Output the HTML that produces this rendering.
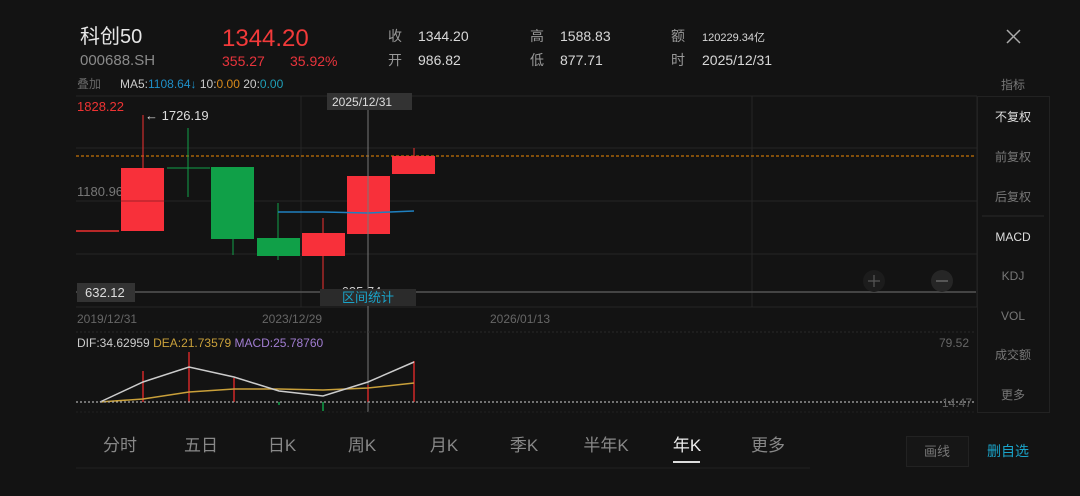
<!DOCTYPE html>
<html><head><meta charset="utf-8"><style>
body{margin:0;width:1080px;height:496px;background:#131313;overflow:hidden;font-family:"Liberation Sans","Noto Sans CJK SC",sans-serif}
</style></head><body>
<svg width="1080" height="496" xmlns="http://www.w3.org/2000/svg" style="position:absolute;left:0;top:0;font-family:'Liberation Sans','Noto Sans CJK SC',sans-serif">
<rect width="1080" height="496" fill="#131313"/>
<!-- header -->
<text x="80" y="43" fill="#e6e6e6" font-size="20">科创50</text>
<text x="80" y="65" fill="#8a8a8a" font-size="15">000688.SH</text>
<text x="222" y="46" fill="#f23a3a" font-size="24">1344.20</text>
<text x="222" y="66" fill="#e8343c" font-size="14">355.27</text>
<text x="290" y="66" fill="#e8343c" font-size="14">35.92%</text>
<g font-size="14" fill="#999"><text x="388" y="41">收</text><text x="388" y="65">开</text><text x="530" y="41">高</text><text x="530" y="65">低</text><text x="671" y="41">额</text><text x="671" y="65">时</text></g>
<g font-size="14" fill="#d8d8d8"><text x="418" y="41">1344.20</text><text x="418" y="65">986.82</text><text x="560" y="41">1588.83</text><text x="560" y="65">877.71</text><text x="702" y="41" font-size="11">120229.34亿</text><text x="702" y="65">2025/12/31</text></g>
<path d="M1007 30L1020 43M1020 30L1007 43" stroke="#aaa" stroke-width="1.5"/>
<text x="77" y="88" fill="#666" font-size="12">叠加</text>
<text x="120" y="88" font-size="12"><tspan fill="#ccc">MA5:</tspan><tspan fill="#1f8fc8">1108.64↓</tspan><tspan fill="#ccc"> 10:</tspan><tspan fill="#d98a1a">0.00</tspan><tspan fill="#ccc"> 20:</tspan><tspan fill="#1f9fb8">0.00</tspan></text>
<!-- grid -->
<g stroke="#262626" stroke-width="1"><line x1="76" y1="96" x2="977" y2="96"/><line x1="76" y1="148" x2="977" y2="148"/><line x1="76" y1="201" x2="977" y2="201"/><line x1="76" y1="254" x2="977" y2="254"/><line x1="76" y1="307" x2="977" y2="307"/><line x1="301" y1="96" x2="301" y2="307"/><line x1="752" y1="96" x2="752" y2="307"/><line x1="977" y1="96" x2="977" y2="307"/></g>
<line x1="76" y1="156" x2="976" y2="156" stroke="#f08a00" stroke-width="1" stroke-dasharray="3,2"/>
<line x1="76" y1="292" x2="976" y2="292" stroke="#555" stroke-width="1.5"/>
<text x="77" y="111" fill="#e33" font-size="13">1828.22</text>
<text x="77" y="196" fill="#777" font-size="13">1180.96</text>
<text x="145" y="120" fill="#ddd" font-size="13">← 1726.19</text>
<!-- candles -->
<line x1="76" y1="231" x2="119" y2="231" stroke="#f03030" stroke-width="1.5"/>
<line x1="143" y1="115" x2="143" y2="168" stroke="#f03030"/><rect x="121" y="168" width="43" height="63" fill="#f8303a"/><line x1="121" y1="201" x2="164" y2="201" stroke="#a02028"/>
<line x1="188" y1="128" x2="188" y2="197" stroke="#10a048"/><line x1="167" y1="168" x2="210" y2="168" stroke="#10a048"/>
<line x1="233" y1="167" x2="233" y2="255" stroke="#10a048"/><rect x="211" y="167" width="43" height="72" fill="#10a048"/>
<line x1="278" y1="203" x2="278" y2="260" stroke="#10a048"/><rect x="257" y="238" width="43" height="18" fill="#10a048"/>
<line x1="323" y1="218" x2="323" y2="290" stroke="#f03030"/><rect x="302" y="233" width="43" height="23" fill="#f8303a"/>
<rect x="347" y="176" width="43" height="58" fill="#f8303a"/>
<line x1="414" y1="148" x2="414" y2="156" stroke="#f03030"/><rect x="392" y="156" width="43" height="18" fill="#f8303a"/>
<path d="M278 212 L323 212 L368 213 L414 211" stroke="#1f80c0" stroke-width="1.5" fill="none"/>
<text x="325" y="296" fill="#ccc" font-size="13">← 635.74</text>
<!-- crosshair -->
<line x1="368" y1="93" x2="368" y2="412" stroke="#777" stroke-width="1"/>
<rect x="327" y="93" width="85" height="17" fill="#333"/><text x="332" y="106" fill="#ddd" font-size="12">2025/12/31</text>
<rect x="77" y="283" width="58" height="19" fill="#333"/><text x="85" y="297" fill="#ddd" font-size="13">632.12</text>
<rect x="320" y="289" width="96" height="17" fill="#2b2b2b"/><text x="342" y="302" fill="#1aa3c8" font-size="13">区间统计</text>
<circle cx="874" cy="281" r="11" fill="#1c1c1c"/><path d="M868 281H880M874 275V287" stroke="#555" stroke-width="1.3"/>
<circle cx="942" cy="281" r="11" fill="#262626"/><path d="M936 281H948" stroke="#666" stroke-width="1.5"/>
<g fill="#666" font-size="12"><text x="77" y="323">2019/12/31</text><text x="262" y="323">2023/12/29</text><text x="490" y="323">2026/01/13</text></g>
<!-- MACD -->
<line x1="76" y1="332" x2="976" y2="332" stroke="#2a2a2a" stroke-dasharray="2,2"/>
<line x1="76" y1="412" x2="976" y2="412" stroke="#222" stroke-dasharray="2,2"/>
<text x="77" y="347" font-size="12"><tspan fill="#ccc">DIF:34.62959 </tspan><tspan fill="#c9a03a">DEA:21.73579 </tspan><tspan fill="#a07cd0">MACD:25.78760</tspan></text>
<text x="939" y="347" fill="#666" font-size="12">79.52</text>
<g stroke="#d02828" stroke-width="1.5"><line x1="143" y1="371" x2="143" y2="402"/><line x1="189" y1="352" x2="189" y2="402"/><line x1="234" y1="378" x2="234" y2="402"/><line x1="414" y1="361" x2="414" y2="402"/><line x1="368" y1="385" x2="368" y2="402"/></g>
<g stroke="#10a048" stroke-width="1.5"><line x1="279" y1="402" x2="279" y2="405"/><line x1="323" y1="402" x2="323" y2="411"/></g>
<polyline points="100,402 143,399 189,392 234,389 279,389 323,390 368,388 414,383" fill="none" stroke="#c9a03a" stroke-width="1.5"/>
<polyline points="100,402 143,382 189,367 234,377 279,391 323,396 368,382 414,362" fill="none" stroke="#ccc" stroke-width="1.5"/>
<line x1="76" y1="402" x2="976" y2="402" stroke="#aaa" stroke-width="1.3" stroke-dasharray="2,2"/>
<text x="942" y="407" fill="#666" font-size="12">14.47</text>
<!-- right panel -->
<rect x="977.5" y="96.5" width="72" height="316" fill="none" stroke="#222"/>
<line x1="982" y1="216" x2="1044" y2="216" stroke="#2a2a2a"/>
<g font-size="12" text-anchor="middle" fill="#777"><text x="1013" y="89">指标</text><text x="1013" y="121" fill="#ddd">不复权</text><text x="1013" y="161">前复权</text><text x="1013" y="201">后复权</text><text x="1013" y="241" fill="#ddd">MACD</text><text x="1013" y="280">KDJ</text><text x="1013" y="320">VOL</text><text x="1013" y="359">成交额</text><text x="1013" y="399">更多</text></g>
<!-- tabs -->
<g font-size="17" fill="#888" text-anchor="middle"><text x="120" y="451">分时</text><text x="201" y="451">五日</text><text x="282" y="451">日K</text><text x="362" y="451">周K</text><text x="444" y="451">月K</text><text x="524" y="451">季K</text><text x="606" y="451">半年K</text><text x="687" y="451" fill="#eee">年K</text><text x="768" y="451">更多</text></g>
<rect x="673" y="461" width="27" height="2" fill="#ddd"/>
<line x1="76" y1="468" x2="810" y2="468" stroke="#222"/>
<rect x="906.5" y="436.5" width="62" height="30" fill="#161616" stroke="#222"/>
<text x="937" y="456" fill="#777" font-size="13" text-anchor="middle">画线</text>
<text x="1008" y="456" fill="#1aa3c8" font-size="14" text-anchor="middle">删自选</text>
</svg>
</body></html>
